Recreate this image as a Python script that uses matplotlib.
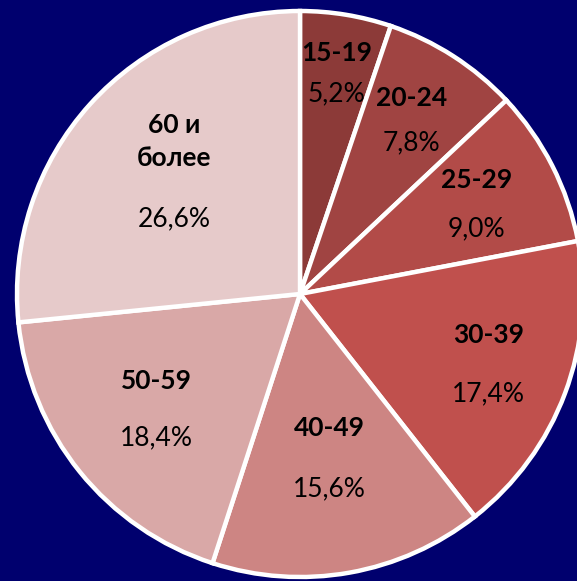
import numpy as np
import matplotlib
matplotlib.use('Agg')
import matplotlib.pyplot as plt

# age groups and their share, percent
groups = ['15-19', '20-24', '25-29', '30-39', '40-49', '50-59', '60 и\nболее']
shares = [5.2, 7.8, 9.0, 17.4, 15.6, 18.4, 26.6]
pct_text = ['5,2%', '7,8%', '9,0%', '17,4%', '15,6%', '18,4%', '26,6%']

colors = ['#8c3a38', '#a04442', '#b24b48', '#c0504d', '#cd8583', '#d9a8a7', '#e6caca']
bg = '#00006e'

# where the label pair sits (fraction of radius) and gap between name and value (px)
label_r = [0.79, 0.73, 0.70, 0.71, 0.59, 0.65, 0.60]
gaps = [40, 45, 49, 59, 61, 56, 77]

plt.rcParams['font.family'] = ['Lato', 'DejaVu Sans']

W, H = 577, 581
fig = plt.figure(figsize=(W / 100, H / 100), dpi=100)
fig.patch.set_facecolor(bg)

cx, cy, r = 300, 294, 283
ax = fig.add_axes([(cx - r) / W, (H - cy - r) / H, 2 * r / W, 2 * r / H])
ax.set_facecolor(bg)

wedges, _ = ax.pie(shares, colors=colors, startangle=90, counterclock=False,
                   wedgeprops=dict(edgecolor='white', linewidth=3.2))
for w in wedges:
    w.set_clip_on(False)

for i, w in enumerate(wedges):
    ang = np.deg2rad((w.theta1 + w.theta2) / 2)
    x = label_r[i] * np.cos(ang)
    y = label_r[i] * np.sin(ang)
    ax.annotate(groups[i], (x, y), xytext=(0, gaps[i] / 2), textcoords='offset pixels',
                ha='center', va='center', fontsize=19, fontweight='bold', color='black',
                linespacing=1.45)
    ax.annotate(pct_text[i], (x, y), xytext=(0, -gaps[i] / 2), textcoords='offset pixels',
                ha='center', va='center', fontsize=19, color='black')

ax.set_xlim(-1, 1)
ax.set_ylim(-1, 1)
ax.axis('off')

fig.savefig('out.png', dpi=100, facecolor=bg)
